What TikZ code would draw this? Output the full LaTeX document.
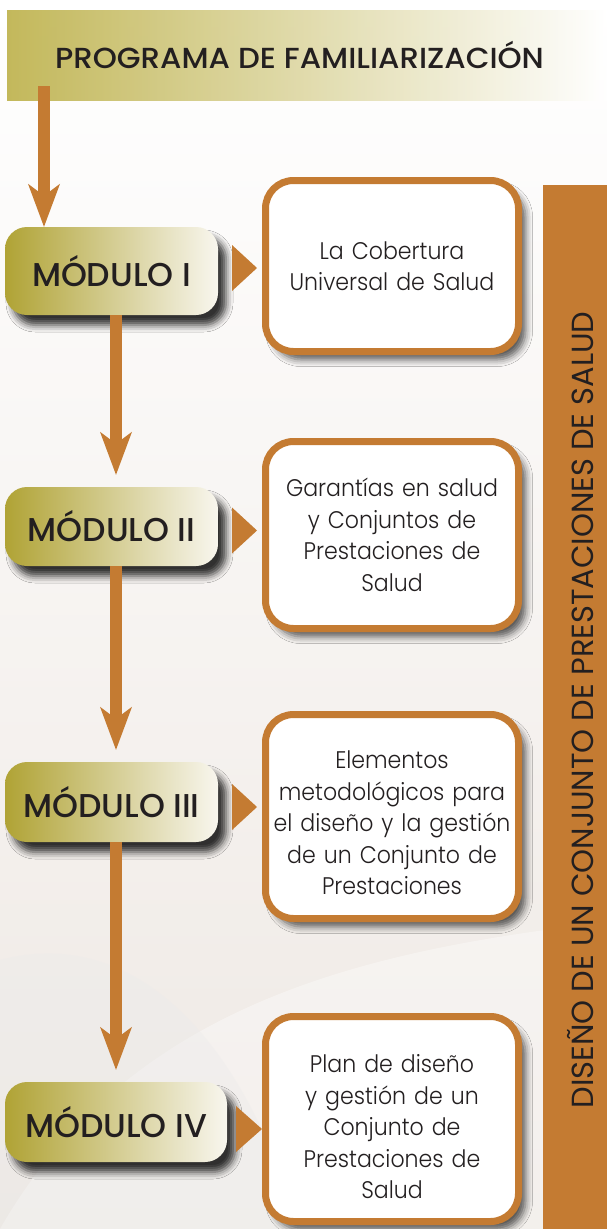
\documentclass[tikz,border=0pt]{standalone}
\usepackage{fontspec}
\newfontfamily\pmed{Poppins Medium}
\newfontfamily\pban{Poppins Medium}[FakeStretch=1.06]
\newfontfamily\plight{Poppins Light}[FakeStretch=0.92]
\newfontfamily\preg{Poppins}
\usetikzlibrary{arrows.meta,shadows.blur,calc}
\definecolor{orng}{HTML}{C47B32}
\definecolor{olive}{HTML}{B0A335}
\definecolor{oliveM}{HTML}{CABF78}
\definecolor{oliveR}{HTML}{F8F6EE}
\definecolor{oliveB}{HTML}{BDB14A}
\definecolor{ink}{HTML}{231F20}
\definecolor{bgpeach}{HTML}{F9EDE5}
\definecolor{bgbot}{HTML}{EEE8E3}
\begin{document}
\begin{tikzpicture}[x=1pt,y=-1pt,
  modbox/.style={rounded corners=22pt, left color=olive, middle color=oliveM, right color=oliveR,
    inner sep=0pt, text=ink, font=\pmed\fontsize{33}{36}\selectfont,
    blur shadow={shadow xshift=8pt, shadow yshift=-10pt, shadow blur radius=7pt, shadow opacity=80}},
  infobox/.style={rounded corners=28pt, draw=orng, line width=7pt, fill=white, minimum width=253pt,
    inner sep=0pt, text=ink, align=center, text width=250pt,
    font=\plight\fontsize{24}{31.5}\selectfont,
    blur shadow={shadow xshift=7pt, shadow yshift=-8pt, shadow blur radius=7pt, shadow opacity=65}},
  flow/.style={draw=orng, line width=12pt, shorten >=12pt,
    -{Stealth[length=43pt, width=32pt, inset=12pt, line width=0pt]}},
  tri/.style={fill=orng}
]
\useasboundingbox (0,0) rectangle (607,1229);
% background
\shade[top color=white, middle color=bgpeach, bottom color=bgbot] (0,0) rectangle (607,1229);
\fill[white, opacity=0.35] (0,1229) .. controls (120,1020) and (330,960) .. (545,930) -- (545,1229) -- cycle;
\fill[black!8, opacity=0.35] (0,960) .. controls (110,930) and (230,1000) .. (300,1229) -- (0,1229) -- cycle;

% side bar
\fill[orng] (543,185) rectangle (607,1229);
\node[rotate=90, text=ink, font=\preg\fontsize{30.5}{32}\selectfont, inner sep=0pt] (side) at (581,710)
  {DISEÑO DE UN CONJUNTO DE PRESTACIONES DE SALUD};

\coordinate (tx) at (44,0);
\coordinate (ax) at (116,0);

% modules
\node[modbox, minimum width=213pt, minimum height=88pt] (m1) at (111.5,271) {MÓDULO I};
\node[modbox, minimum width=213pt, minimum height=79pt] (m2) at (111.5,526.5) {MÓDULO II};
\node[modbox, minimum width=213pt, minimum height=80pt] (m3) at (111.5,802) {MÓDULO III};
\node[modbox, minimum width=222pt, minimum height=80pt] (m4) at (116,1122) {MÓDULO IV};

% info boxes
\node[infobox, minimum height=171pt] (b1) at (392,266) {La Cobertura\\Universal de Salud};
\node[infobox, minimum height=187pt] (b2) at (392,535) {Garantías en salud\\y Conjuntos de\\Prestaciones de\\Salud};
\node[infobox, minimum height=204pt] (b3) at (392,816.5) {\rule{0pt}{31pt}Elementos\\metodológicos para\\el diseño y la gestión\\de un Conjunto de\\Prestaciones};
\node[infobox, minimum height=205pt] (b4) at (392,1119) {\rule{0pt}{34pt}Plan de diseño\\y gestión de un\\Conjunto de\\Prestaciones de\\Salud};

% banner
\node[left color=oliveB, middle color=oliveB!62!white, right color=white, fill opacity=0.9, text opacity=1,
  minimum width=600pt, minimum height=90pt, inner sep=0pt, text=ink,
  font=\pban\fontsize{29}{30}\selectfont] (banner) at (307,55) {\hspace*{-15pt}PROGRAMA DE FAMILIARIZACIÓN};

% connectors
\draw[flow, shorten >=0pt] ([yshift=14pt]banner.south -| tx) -- (m1.north -| tx);
\draw[flow] (m1.south -| ax) -- (m2.north -| ax);
\draw[flow] (m2.south -| ax) -- (m3.north -| ax);
\draw[flow] (m3.south -| ax) -- (m4.north -| ax);

% triangles
\fill[tri] ($(m1.east -| b1.west)+(-5,-3)$) -- ++(-25,-23) -- ++(0,46) -- cycle;
\fill[tri] ($(m2.east -| b2.west)+(-5,4)$) -- ++(-25,-23) -- ++(0,46) -- cycle;
\fill[tri] ($(m3.east -| b3.west)+(-5,5)$) -- ++(-25,-23) -- ++(0,46) -- cycle;
\fill[tri] ($(m4.east -| b4.west)+(0,7)$) -- ++(-26,-23) -- ++(0,46) -- cycle;
\end{tikzpicture}
\end{document}
